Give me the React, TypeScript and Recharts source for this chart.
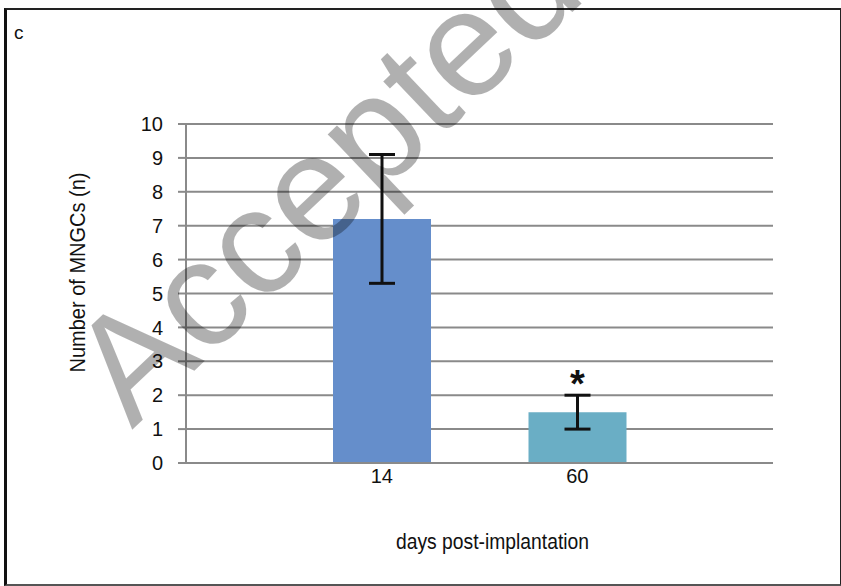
import React from "react";
import {
  BarChart,
  Bar,
  XAxis,
  YAxis,
  CartesianGrid,
  ErrorBar,
  Cell,
  LabelList,
  Label,
} from "recharts";

const days = ["14", "60"];
const meanCells = [7.2, 1.5];
const errCells = [1.9, 0.5];
const significance = ["", "*"];
const barColors = ["#658ecb", "#6aaec5"];
const yTicks = [0, 1, 2, 3, 4, 5, 6, 7, 8, 9, 10];
const xTitle = "days post-implantation";
const yTitle = "Number of MNGCs  (n)";

const data = days.map((d, i) => ({
  day: d,
  value: meanCells[i],
  err: errCells[i],
  sig: significance[i],
}));

const FONT = "'Liberation Sans', Arial, sans-serif";

const StarLabel = (props: any) => {
  const { x, width, y, value } = props;
  if (!value) return null;
  return (
    <text
      x={x + width / 2}
      y={y - 15}
      textAnchor="middle"
      fontFamily={FONT}
      fontWeight="bold"
      fontSize={38}
      fill="#111"
    >
      {value}
    </text>
  );
};

const XTitle = (props: any) => {
  const vb = props.viewBox || {};
  const cx = vb.x + vb.width / 2 + 13;
  const by = vb.y + 86;
  return (
    <text
      x={cx}
      y={by}
      textAnchor="middle"
      fontFamily={FONT}
      fontSize={22}
      fill="#111"
      textLength={193}
      lengthAdjust="spacingAndGlyphs"
    >
      {xTitle}
    </text>
  );
};

const YTitle = (props: any) => {
  const vb = props.viewBox || {};
  const cy = vb.y + vb.height / 2 - 21;
  const bx = 85;
  return (
    <text
      x={bx}
      y={cy}
      transform={`rotate(-90 ${bx} ${cy})`}
      textAnchor="middle"
      fontFamily={FONT}
      fontSize={22}
      fill="#111"
      textLength={200}
      lengthAdjust="spacingAndGlyphs"
    >
      {yTitle}
    </text>
  );
};

export default function App() {
  return (
    <div
      style={{
        position: "absolute",
        left: 0,
        top: 0,
        width: 841,
        height: 586,
        background: "#fff",
        fontFamily: FONT,
      }}
    >
      <div
        style={{
          position: "absolute",
          left: 4,
          top: 8,
          width: 833,
          height: 574,
          borderLeft: "3px solid #111",
          borderTop: "2px solid #222",
          borderRight: "2px solid #222",
          borderBottom: "2px solid #555",
        }}
      />
      <div
        style={{
          position: "absolute",
          left: 14,
          top: 22,
          fontSize: 19,
          fontFamily: FONT,
          color: "#111",
        }}
      >
        c
      </div>
      <div style={{ position: "absolute", left: 0, top: 0 }}>
        <BarChart
          width={841}
          height={586}
          data={data}
          margin={{ top: 124, right: 68, bottom: 0, left: 0 }}
          barSize={98}
        >
          <CartesianGrid
            horizontal={true}
            vertical={false}
            stroke="#8a8a8a"
            strokeWidth={2}
          />
          <XAxis
            dataKey="day"
            height={123}
            padding={{ left: 98, right: 98 }}
            axisLine={{ stroke: "#8a8a8a", strokeWidth: 2 }}
            tickLine={false}
            tickSize={0}
            tickMargin={6}
            tick={{ fill: "#111", fontSize: 20, fontFamily: FONT }}
          >
            <Label content={XTitle} />
          </XAxis>
          <YAxis
            width={186}
            domain={[0, 10]}
            ticks={yTicks}
            interval={0}
            axisLine={{ stroke: "#8a8a8a", strokeWidth: 2 }}
            tickLine={{ stroke: "#8a8a8a", strokeWidth: 2 }}
            tickSize={8}
            tickMargin={15}
            tick={{ fill: "#111", fontSize: 20, fontFamily: FONT }}
          >
            <Label content={YTitle} />
          </YAxis>
          <Bar dataKey="value" isAnimationActive={false}>
            {data.map((d, i) => (
              <Cell key={d.day} fill={barColors[i]} />
            ))}
            <ErrorBar
              dataKey="err"
              width={13}
              stroke="#111"
              strokeWidth={3}
              direction="y"
            />
            <LabelList dataKey="sig" content={StarLabel} />
          </Bar>
        </BarChart>
      </div>
      <svg
        width={841}
        height={586}
        style={{ position: "absolute", left: 0, top: 0, pointerEvents: "none" }}
      >
        <text
          x={132}
          y={430}
          transform="rotate(-43.5 132 430)"
          fontFamily={FONT}
          fontSize={151}
          fill="#000"
          fillOpacity={0.31}
        >
          Accepted
        </text>
      </svg>
    </div>
  );
}
